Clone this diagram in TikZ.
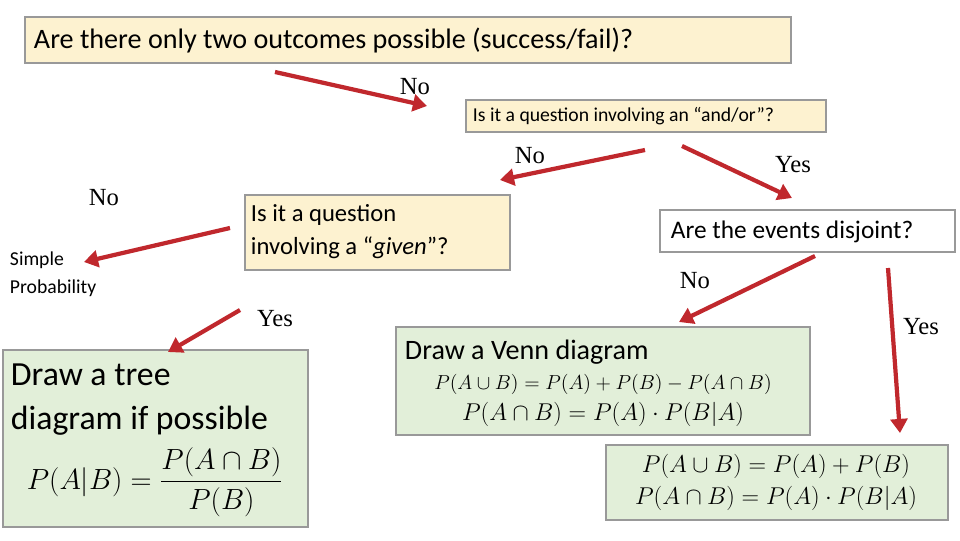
\documentclass[tikz,border=0pt]{standalone}
\usepackage{amsmath}
\usepackage{fontspec}
\usetikzlibrary{arrows.meta}
\setmainfont{Carlito}
\newfontfamily\serif{Liberation Serif}
\definecolor{qyellow}{HTML}{FDF2D0}
\definecolor{qgreen}{HTML}{E2EFD9}
\definecolor{qred}{HTML}{C0282D}
\tikzset{
  qbox/.style={draw=gray!80, line width=0.8pt, fill=qyellow, inner sep=0pt},
  gbox/.style={draw=gray!80, line width=0.8pt, fill=qgreen, inner sep=0pt},
  ans/.style={font=\serif\fontsize{17.5}{19}\selectfont},
  go/.style={draw=qred, line width=3pt, -{Triangle[length=10pt,width=12pt]}}
}
\begin{document}
\begin{tikzpicture}[x=0.025cm,y=-0.025cm]
\useasboundingbox (0,0) rectangle (960,540);

% questions
\draw[qbox] (25,17) rectangle (791,63);
\node[anchor=west,font=\fontsize{20}{22}\selectfont] (q1) at (29,40) {Are there only two outcomes possible (success/fail)?};
\draw[qbox,fill=qyellow] (466,100) rectangle (826,132);
\node[anchor=west,font=\fontsize{14}{16}\selectfont] (q2) at (468,116) {Is it a question involving an “and/or”?};
\draw[qbox] (245,195) rectangle (510,270);
\node[anchor=north west,align=left,font=\fontsize{17.5}{23}\selectfont] (q3) at (246,200) {Is it a question\\involving a “\textit{given}”?};
\draw[draw=gray!80,line width=0.8pt] (660,210) rectangle (955,252);
\node[anchor=west,font=\fontsize{18}{20}\selectfont] (q4) at (666,232) {Are the events disjoint?};
\node[anchor=west,align=left,font=\fontsize{14}{20}\selectfont] (sp) at (5,274) {Simple\\Probability};

% answers
\node[ans] (n1) at (415,87) {No};
\node[ans] (n2) at (530,156) {No};
\node[ans] (y2) at (793,165) {Yes};
\node[ans] (n3) at (104,198) {No};
\node[ans] (y3) at (275,319) {Yes};
\node[ans] (n4) at (695,281) {No};
\node[ans] (y4) at (921,327) {Yes};

% results
\draw[gbox] (3,350) rectangle (308,527);
\node[anchor=north west,align=left,font=\fontsize{24}{31}\selectfont] (tree) at (6,359) {Draw a tree\\diagram if possible};
\node[font=\fontsize{21}{24}\selectfont] (bayes) at (155,482) {$P(A|B)=\dfrac{P(A\cap B)}{P(B)}$};
\draw[gbox] (396,327) rectangle (810,435);
\node[anchor=west,font=\fontsize{20}{22}\selectfont] (venn) at (400,352) {Draw a Venn diagram};
\node[font=\fontsize{15}{17}\selectfont] (f1) at (603,384) {$P(A\cup B)=P(A)+P(B)-P(A\cap B)$};
\node[font=\fontsize{17.5}{19}\selectfont] (f2) at (603,414) {$P(A\cap B)=P(A)\cdot P(B|A)$};
\draw[gbox] (606,445) rectangle (948,520);
\node[font=\fontsize{17.5}{19}\selectfont] (f3) at (776,466) {$P(A\cup B)=P(A)+P(B)$};
\node[font=\fontsize{17.5}{19}\selectfont] (f4) at (776,498) {$P(A\cap B)=P(A)\cdot P(B|A)$};

% arrows
\coordinate (a1) at (275,72);   \coordinate (b1) at (427,106);
\coordinate (a2) at (645,150);  \coordinate (b2) at (500,180);
\coordinate (a3) at (682,146);  \coordinate (b3) at (792,198);
\coordinate (a4) at (230,228);  \coordinate (b4) at (84,262);
\coordinate (a5) at (240,310);  \coordinate (b5) at (168,352);
\coordinate (a6) at (815,256);  \coordinate (b6) at (679,322);
\coordinate (a7) at (888,268);  \coordinate (b7) at (900,433);
\foreach \i in {1,...,7} \draw[go] (a\i) -- (b\i);
\end{tikzpicture}
\end{document}
